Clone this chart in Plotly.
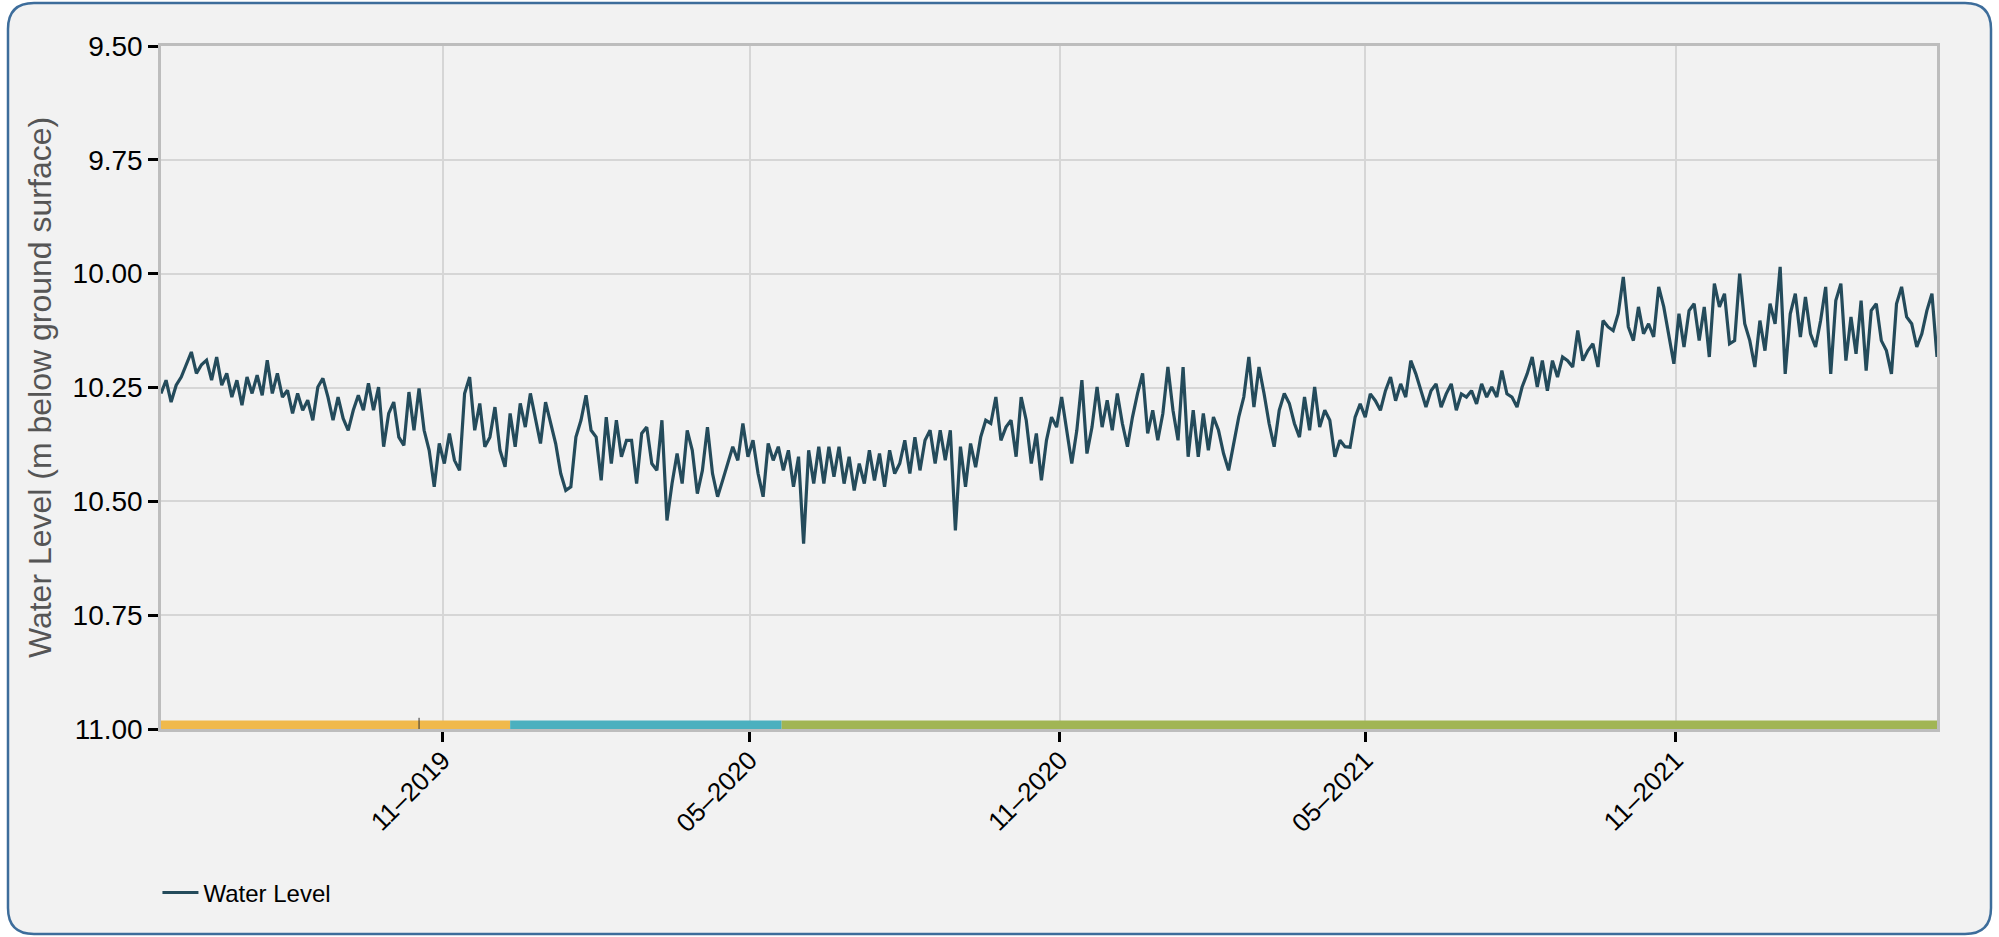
import pandas as pd
import plotly.graph_objects as go

# ---------------- data ----------------
start_date = "2019-05-18"
step = "3D"

water_level = [
    # May 2019 - Nov 2019
    10.263, 10.234, 10.282, 10.245, 10.227, 10.197, 10.172, 10.219, 10.200, 10.190,
    10.234, 10.183, 10.245, 10.219, 10.271, 10.234, 10.289, 10.227, 10.263, 10.223,
    10.267, 10.190, 10.263, 10.219, 10.271, 10.256, 10.307, 10.263, 10.300, 10.278,
    10.322, 10.249, 10.230, 10.271, 10.322, 10.271, 10.318, 10.344, 10.300, 10.267,
    10.300, 10.241, 10.300, 10.249, 10.380, 10.307, 10.282, 10.359, 10.377, 10.260,
    10.344, 10.252, 10.344, 10.388, 10.468, 10.373, 10.417, 10.351, 10.410,
    # Nov 2019 - May 2020
    10.432, 10.263, 10.227, 10.344, 10.285, 10.380, 10.359, 10.293, 10.388, 10.424,
    10.307, 10.380, 10.285, 10.337, 10.263, 10.315, 10.373, 10.282, 10.329, 10.373,
    10.439, 10.476, 10.468, 10.359, 10.322, 10.267, 10.344, 10.359, 10.454, 10.315,
    10.417, 10.322, 10.402, 10.366, 10.366, 10.461, 10.351, 10.337, 10.417, 10.432,
    10.322, 10.542, 10.461, 10.395, 10.461, 10.344, 10.388, 10.483, 10.432, 10.337,
    10.439, 10.490, 10.454, 10.417, 10.380, 10.410, 10.329, 10.402,
    # May 2020 - Nov 2020
    10.366, 10.439, 10.490, 10.373, 10.410, 10.380, 10.432, 10.388, 10.468, 10.402,
    10.593, 10.388, 10.461, 10.380, 10.461, 10.380, 10.446, 10.380, 10.461, 10.402,
    10.476, 10.417, 10.461, 10.388, 10.454, 10.395, 10.468, 10.388, 10.439, 10.417,
    10.366, 10.439, 10.359, 10.432, 10.366, 10.344, 10.417, 10.344, 10.410, 10.344,
    10.564, 10.380, 10.468, 10.373, 10.425, 10.359, 10.322, 10.329, 10.271, 10.366,
    10.337, 10.322, 10.402, 10.271, 10.322, 10.417, 10.351, 10.454, 10.366,
    # Nov 2020 - May 2021
    10.315, 10.337, 10.271, 10.344, 10.417, 10.344, 10.234, 10.395, 10.337, 10.249,
    10.337, 10.278, 10.344, 10.263, 10.329, 10.380, 10.315, 10.263, 10.219, 10.351,
    10.300, 10.366, 10.307, 10.205, 10.300, 10.366, 10.205, 10.402, 10.300, 10.402,
    10.307, 10.388, 10.315, 10.344, 10.395, 10.432, 10.373, 10.315, 10.271, 10.183,
    10.293, 10.205, 10.263, 10.329, 10.380, 10.300, 10.263, 10.285, 10.329, 10.359,
    10.271, 10.344, 10.249, 10.337, 10.300, 10.322, 10.402, 10.366, 10.380,
    # May 2021 - Nov 2021
    10.381, 10.315, 10.286, 10.315, 10.264, 10.279, 10.300, 10.257, 10.227, 10.279,
    10.242, 10.271, 10.191, 10.220, 10.257, 10.293, 10.257, 10.242, 10.293, 10.264,
    10.242, 10.300, 10.264, 10.271, 10.257, 10.286, 10.242, 10.271, 10.249, 10.271,
    10.213, 10.264, 10.271, 10.293, 10.249, 10.220, 10.183, 10.249, 10.191, 10.257,
    10.191, 10.227, 10.183, 10.191, 10.205, 10.125, 10.191, 10.169, 10.154, 10.205,
    10.103, 10.117, 10.125, 10.088, 10.007, 10.117, 10.147, 10.073, 10.132,
    # Nov 2021 - Apr 2022
    10.110, 10.139, 10.029, 10.073, 10.139, 10.198, 10.088, 10.161, 10.081, 10.066,
    10.147, 10.073, 10.183, 10.022, 10.073, 10.044, 10.154, 10.147, 10.000, 10.110,
    10.147, 10.205, 10.103, 10.169, 10.066, 10.110, 9.985, 10.220, 10.088, 10.044,
    10.139, 10.051, 10.132, 10.161, 10.103, 10.029, 10.220, 10.059, 10.022, 10.191,
    10.095, 10.176, 10.059, 10.213, 10.081, 10.066, 10.147, 10.169, 10.220, 10.066,
    10.029, 10.095, 10.110, 10.161, 10.132, 10.081, 10.044, 10.183,
]

# coloured period bands along the bottom of the chart
band_starts = ["2019-05-18", "2019-12-11", "2020-05-20"]
band_ends = ["2019-12-11", "2020-05-20", "2022-04-05"]
band_colors = ["#f0b94b", "#4bb0bf", "#a1b554"]
band_level = 11.0
separator_dates = ["2019-10-18"]

x_tick_dates = ["2019-11-01", "2020-05-01", "2020-11-01", "2021-05-01", "2021-11-01"]
y_tick_values = [9.5, 9.75, 10.0, 10.25, 10.5, 10.75, 11.0]

dates = pd.date_range(start=start_date, periods=len(water_level), freq=step)

# ---------------- figure ----------------
W, H = 1999, 937
L, R, T, B = 161, 62, 46, 208
pw, ph = W - L - R, H - T - B

fig = go.Figure()

fig.add_trace(go.Scatter(
    x=dates, y=water_level, mode="lines", name="Water Level",
    line=dict(color="#244b5b", width=3.2), hoverinfo="skip",
))

for s, e, c in zip(band_starts, band_ends, band_colors):
    fig.add_trace(go.Scatter(
        x=[s, e], y=[band_level, band_level], mode="lines",
        line=dict(color=c, width=17), showlegend=False, hoverinfo="skip",
    ))

fig.add_trace(go.Scatter(
    x=separator_dates, y=[band_level] * len(separator_dates), mode="markers",
    marker=dict(symbol="line-ns", size=16, line=dict(color="#333333", width=1)),
    showlegend=False, hoverinfo="skip",
))


def px_x(p):
    return (p - L) / pw


def px_y(p):
    return (H - B - p) / ph


# rounded outer frame
x0, x1, y0, y1, r = 8, 1991, 3, 934, 26
path = (
    f"M {px_x(x0 + r)},{px_y(y0)} L {px_x(x1 - r)},{px_y(y0)} "
    f"Q {px_x(x1)},{px_y(y0)} {px_x(x1)},{px_y(y0 + r)} "
    f"L {px_x(x1)},{px_y(y1 - r)} Q {px_x(x1)},{px_y(y1)} {px_x(x1 - r)},{px_y(y1)} "
    f"L {px_x(x0 + r)},{px_y(y1)} Q {px_x(x0)},{px_y(y1)} {px_x(x0)},{px_y(y1 - r)} "
    f"L {px_x(x0)},{px_y(y0 + r)} Q {px_x(x0)},{px_y(y0)} {px_x(x0 + r)},{px_y(y0)} Z"
)
fig.add_shape(type="path", path=path, xref="paper", yref="paper", layer="below",
              fillcolor="#f2f2f2", line=dict(color="#3d6d9b", width=2.5))

font_family = "Liberation Sans, Arial, sans-serif"

fig.update_layout(
    width=W, height=H,
    margin=dict(l=L, r=R, t=T, b=B),
    paper_bgcolor="white",
    plot_bgcolor="rgba(0,0,0,0)",
    font=dict(family=font_family, size=25, color="black"),
    showlegend=True,
    legend=dict(
        orientation="h", x=-0.002, y=-0.24, xanchor="left", yanchor="middle",
        font=dict(size=24, color="black"), bgcolor="rgba(0,0,0,0)",
        itemwidth=36,
    ),
    xaxis=dict(
        type="date",
        range=[dates[0], dates[-1]],
        tickvals=x_tick_dates, tickformat="%m\u2013%Y", tickangle=-45,
        ticks="outside", ticklen=10, tickwidth=2.5, tickcolor="black",
        showgrid=True, gridcolor="#d6d6d6", gridwidth=2,
        showline=True, linecolor="#bdbdbd", linewidth=2.5, mirror=True,
        zeroline=False,
        tickfont=dict(size=26, color="black"),
        ticklabelstandoff=-7,
    ),
    yaxis=dict(
        range=[11.0, 9.5],
        tickvals=y_tick_values, tickformat=".2f",
        ticks="outside", ticklen=10, tickwidth=2.5, tickcolor="black",
        showgrid=True, gridcolor="#d6d6d6", gridwidth=2,
        showline=True, linecolor="#bdbdbd", linewidth=2.5, mirror=True,
        zeroline=False,
        tickfont=dict(size=28, color="black"),
        title=dict(text="Water Level (m below ground surface)",
                   font=dict(size=32, color="#555555"), standoff=12),
    ),
)

fig.write_html("out.html", config={"displayModeBar": False},
               post_script="document.body.style.margin='0';")
